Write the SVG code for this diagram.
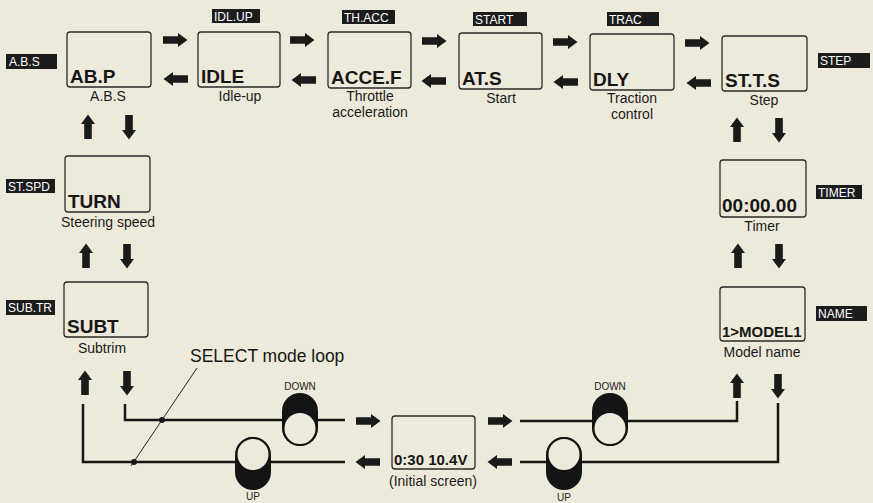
<svg xmlns="http://www.w3.org/2000/svg" xmlns:xlink="http://www.w3.org/1999/xlink" width="873" height="503" viewBox="0 0 873 503">
<style>
.bg{fill:#eeeadb}
.box{fill:none;stroke:#2a2a2a;stroke-width:1.3}
.lbl{font-family:"Liberation Sans",Arial,sans-serif;font-weight:bold;font-size:19px;fill:#161616}
.lbls{font-family:"Liberation Sans",Arial,sans-serif;font-weight:bold;font-size:15px;fill:#161616}
.cap{font-family:"Liberation Sans",Arial,sans-serif;font-size:14px;fill:#1a1a1a;text-anchor:middle}
.tag rect{fill:#1c1c1c}
.tag text{font-family:"Liberation Sans",Arial,sans-serif;font-size:12px;fill:#ffffff}
.arr{fill:#1a1a1a}
.ln{fill:none;stroke:#161616;stroke-width:2.5}
.lead{fill:none;stroke:#222;stroke-width:1}
.sw{font-family:"Liberation Sans",Arial,sans-serif;font-size:10px;fill:#222;text-anchor:middle}
.stad{fill:#141414}
.circ{fill:#eeeadb;stroke:#141414;stroke-width:2}
</style>
<defs>
<path id="ar" d="M-12,-3.8 H3 V-7 L12.5,0 L3,7 V3.8 H-12 Z"/>
</defs>
<rect class="bg" x="0" y="0" width="873" height="503"/>

<g id="n-abp"><rect class="box" x="67" y="32" width="84" height="55" rx="3"/><text class="lbl" x="70" y="83">AB.P</text><text class="cap" x="108" y="101">A.B.S</text></g>
<g id="n-idle"><rect class="box" x="198" y="32" width="82" height="55" rx="3"/><text class="lbl" x="201" y="83">IDLE</text><text class="cap" x="240" y="101">Idle-up</text></g>
<g id="n-acce"><rect class="box" x="328" y="32" width="83" height="56" rx="3"/><text class="lbl" x="331" y="84">ACCE.F</text><text class="cap" x="370" y="101">Throttle</text><text class="cap" x="370" y="117">acceleration</text></g>
<g id="n-ats"><rect class="box" x="459" y="33" width="83" height="56" rx="3"/><text class="lbl" x="462" y="85">AT.S</text><text class="cap" x="501" y="103">Start</text></g>
<g id="n-dly"><rect class="box" x="590" y="34" width="84" height="56" rx="3"/><text class="lbl" x="593" y="86">DLY</text><text class="cap" x="632" y="103">Traction</text><text class="cap" x="632" y="119">control</text></g>
<g id="n-stts"><rect class="box" x="722" y="36" width="85" height="55" rx="3"/><text class="lbl" x="725" y="87">ST.T.S</text><text class="cap" x="764" y="105">Step</text></g>
<g id="n-turn"><rect class="box" x="65" y="156" width="85" height="56" rx="3"/><text class="lbl" x="68" y="208">TURN</text><text class="cap" x="108" y="227">Steering speed</text></g>
<g id="n-subt"><rect class="box" x="64" y="282" width="84" height="55" rx="3"/><text class="lbl" x="67" y="333">SUBT</text><text class="cap" x="102" y="353">Subtrim</text></g>
<g id="n-timer"><rect class="box" x="720" y="160" width="86" height="57" rx="3"/><text class="lbl" x="722" y="212">00:00.00</text><text class="cap" x="762" y="231">Timer</text></g>
<g id="n-model"><rect class="box" x="720" y="287" width="85" height="54" rx="3"/><text class="lbls" x="722" y="337">1&gt;MODEL1</text><text class="cap" x="762" y="357">Model name</text></g>
<g id="n-init"><rect class="box" x="392" y="416" width="83" height="53" rx="3"/><text class="lbls" x="394" y="465">0:30 10.4V</text><text class="cap" x="433" y="486">(Initial screen)</text></g>

<g id="tags" class="tag">
<rect x="6" y="54" width="51" height="15"/><text x="9" y="66">A.B.S</text>
<rect x="212" y="9" width="48" height="14"/><text x="214" y="21">IDL.UP</text>
<rect x="342" y="10" width="53" height="14"/><text x="344" y="22">TH.ACC</text>
<rect x="473" y="12" width="54" height="14"/><text x="475" y="24">START</text>
<rect x="607" y="12" width="52" height="14"/><text x="609" y="24">TRAC</text>
<rect x="818" y="53" width="52" height="15"/><text x="820" y="65">STEP</text>
<rect x="6" y="179" width="49" height="14"/><text x="8" y="191">ST.SPD</text>
<rect x="6" y="300" width="49" height="15"/><text x="8" y="312">SUB.TR</text>
<rect x="816" y="185" width="46" height="14"/><text x="818" y="197">TIMER</text>
<rect x="816" y="306" width="51" height="15"/><text x="818" y="318">NAME</text>
</g>

<g id="connectors">
<g class="arr">
<use xlink:href="#ar" href="#ar" transform="translate(175,40)"/>
<use xlink:href="#ar" href="#ar" transform="translate(302,40)"/>
<use xlink:href="#ar" href="#ar" transform="translate(434,41)"/>
<use xlink:href="#ar" href="#ar" transform="translate(565,42)"/>
<use xlink:href="#ar" href="#ar" transform="translate(697,43)"/>
<use xlink:href="#ar" href="#ar" transform="translate(176,79) rotate(180)"/>
<use xlink:href="#ar" href="#ar" transform="translate(304,80) rotate(180)"/>
<use xlink:href="#ar" href="#ar" transform="translate(434,81) rotate(180)"/>
<use xlink:href="#ar" href="#ar" transform="translate(566,82) rotate(180)"/>
<use xlink:href="#ar" href="#ar" transform="translate(699,83) rotate(180)"/>
<use xlink:href="#ar" href="#ar" transform="translate(88,127) rotate(-90)"/>
<use xlink:href="#ar" href="#ar" transform="translate(129,127) rotate(90)"/>
<use xlink:href="#ar" href="#ar" transform="translate(86,256) rotate(-90)"/>
<use xlink:href="#ar" href="#ar" transform="translate(127,256) rotate(90)"/>
<use xlink:href="#ar" href="#ar" transform="translate(85,383) rotate(-90)"/>
<use xlink:href="#ar" href="#ar" transform="translate(127,383) rotate(90)"/>
<use xlink:href="#ar" href="#ar" transform="translate(737,130) rotate(-90)"/>
<use xlink:href="#ar" href="#ar" transform="translate(779,130) rotate(90)"/>
<use xlink:href="#ar" href="#ar" transform="translate(738,256) rotate(-90)"/>
<use xlink:href="#ar" href="#ar" transform="translate(779,256) rotate(90)"/>
<use xlink:href="#ar" href="#ar" transform="translate(737,386) rotate(-90)"/>
<use xlink:href="#ar" href="#ar" transform="translate(778,386) rotate(90)"/>
<use xlink:href="#ar" href="#ar" transform="translate(368,421)"/>
<use xlink:href="#ar" href="#ar" transform="translate(368,462) rotate(180)"/>
<use xlink:href="#ar" href="#ar" transform="translate(500,421)"/>
<use xlink:href="#ar" href="#ar" transform="translate(500,462) rotate(180)"/>
</g>
<path class="ln" d="M125,404 V420 H345"/>
<path class="ln" d="M83,404 V462 H345"/>
<path class="ln" d="M520,421 H737 V401"/>
<path class="ln" d="M778,403 V462 H520"/>
<path class="lead" d="M197,368 L131,466"/>
<circle cx="162" cy="420" r="3" fill="#161616"/>
<circle cx="134" cy="462" r="3" fill="#161616"/>
</g>

<g id="sw-down-l"><rect class="stad" x="282" y="393" width="36" height="53" rx="18"/><circle class="circ" cx="300" cy="428.5" r="16.5"/><text class="sw" x="300" y="390">DOWN</text></g>
<g id="sw-up-l"><rect class="stad" x="235" y="437" width="36" height="53" rx="18"/><circle class="circ" cx="253" cy="454.5" r="16.5"/><text class="sw" x="253" y="500">UP</text></g>
<g id="sw-down-r"><rect class="stad" x="592" y="393" width="36" height="53" rx="18"/><circle class="circ" cx="610" cy="428.5" r="16.5"/><text class="sw" x="610" y="390">DOWN</text></g>
<g id="sw-up-r"><rect class="stad" x="546" y="437" width="36" height="53" rx="18"/><circle class="circ" cx="564" cy="454.5" r="16.5"/><text class="sw" x="564" y="501">UP</text></g>

<text x="190" y="362" font-family="Liberation Sans, Arial, sans-serif" font-size="17.5" fill="#161616">SELECT mode loop</text>
</svg>
